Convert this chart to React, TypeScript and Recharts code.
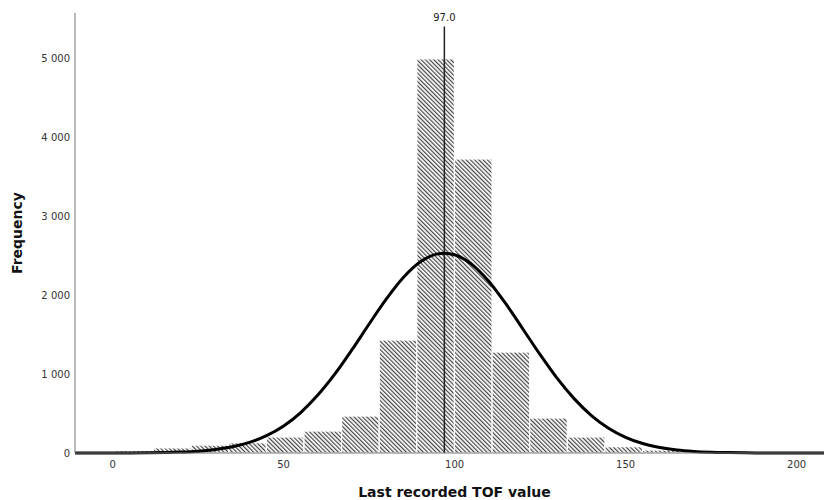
import { ComposedChart, Bar, Line, XAxis, YAxis, ReferenceLine } from "recharts"

// histogram bins (11 wide), mid points and counts
const binMids = [6.5, 17.5, 28.5, 39.5, 50.5, 61.5, 72.5, 83.5, 94.5, 105.5, 116.5, 127.5, 138.5, 149.5, 160.5, 171.5]
const binCounts = [30, 65, 100, 130, 203, 278, 468, 1430, 4990, 3722, 1278, 443, 203, 80, 38, 10]
const binWidth = 11

// fitted normal curve
const curveX = [-11, -5, 0, 5, 10, 15, 20, 25, 30, 35, 40, 45, 50, 55, 60, 65, 70, 75, 80, 85, 90, 95, 97, 100, 105, 110, 115, 120, 125, 130, 135, 140, 145, 150, 155, 160, 165, 170, 175, 180, 185, 190, 195, 200, 208]
const curveY = [0, 0, 0.5, 1, 3, 6, 12, 23, 44, 78, 134, 219, 342, 512, 733, 1001, 1308, 1633, 1947, 2221, 2420, 2521, 2530, 2509, 2388, 2171, 1887, 1567, 1245, 944, 685, 474, 314, 199, 120, 70, 38, 20, 10, 5, 2, 1, 0, 0, 0]

const xTicks = [0, 50, 100, 150, 200]
const yTicks = [0, 1000, 2000, 3000, 4000, 5000]
const meanValue = 97.0

const W = 824
const H = 500
const Y_AXIS_W = 75
const X_DOMAIN = [-11, 208]

const bars = binMids.map((x, i) => ({ x, count: binCounts[i] }))
const curve = curveX.map((x, i) => ({ x, fit: curveY[i] }))

// bin width in pixels on the x scale
const barPx = ((W - Y_AXIS_W) / (X_DOMAIN[1] - X_DOMAIN[0])) * binWidth

const fmt = (v: number) => String(v).replace(/\B(?=(\d{3})+(?!\d))/g, " ")

// recharts centres the bar on the bin mid point, we just widen it to the bin
const HistBar = (props: any) => {
  const { x, y, width, height } = props
  if (!height || height <= 0) return null
  const cx = x + width / 2
  return (
    <rect x={cx - barPx / 2} y={y} width={barPx} height={height} fill="url(#hatch)" stroke="#fff" strokeWidth={1.2} />
  )
}

export default function App() {
  return (
    <div style={{ position: "absolute", left: 0, top: 0 }}>
      <ComposedChart
        width={W}
        height={H}
        data={bars}
        margin={{ top: 13, right: 0, left: 0, bottom: 0 }}
        style={{ fontFamily: "'DejaVu Sans', sans-serif" }}
      >
        <defs>
          <pattern id="hatch" width="3" height="3" patternUnits="userSpaceOnUse" patternTransform="rotate(-45)">
            <rect width="3" height="3" fill="#fff" />
            <line x1="0.6" y1="0" x2="0.6" y2="3" stroke="#444" strokeWidth="1.2" />
          </pattern>
        </defs>
        <XAxis
          dataKey="x"
          type="number"
          domain={X_DOMAIN}
          allowDataOverflow
          ticks={xTicks}
          tickLine={false}
          stroke="#777"
          tick={{ fill: "#333", fontSize: 10 }}
          height={47}
          label={{ value: "Last recorded TOF value", position: "insideBottom", offset: 3, dx: 5, fill: "#111", fontSize: 14, fontWeight: "bold" }}
        />
        <YAxis
          type="number"
          domain={[0, 5570]}
          ticks={yTicks}
          tickFormatter={fmt}
          tickLine={false}
          tickSize={3}
          stroke="#777"
          tick={{ fill: "#333", fontSize: 10 }}
          width={Y_AXIS_W}
          label={{ value: "Frequency", angle: -90, position: "center", dx: -20, fill: "#111", fontSize: 14, fontWeight: "bold" }}
        />
        <Bar dataKey="count" shape={HistBar} isAnimationActive={false} />
        <ReferenceLine
          segment={[{ x: meanValue, y: 0 }, { x: meanValue, y: 5400 }]}
          stroke="#222"
          strokeWidth={1.5}
          label={{ value: meanValue.toFixed(1), position: "top", fill: "#222", fontSize: 10 }}
        />
        <Line data={curve} dataKey="fit" type="monotone" stroke="#000" strokeWidth={3} dot={false} isAnimationActive={false} />
      </ComposedChart>
    </div>
  )
}
